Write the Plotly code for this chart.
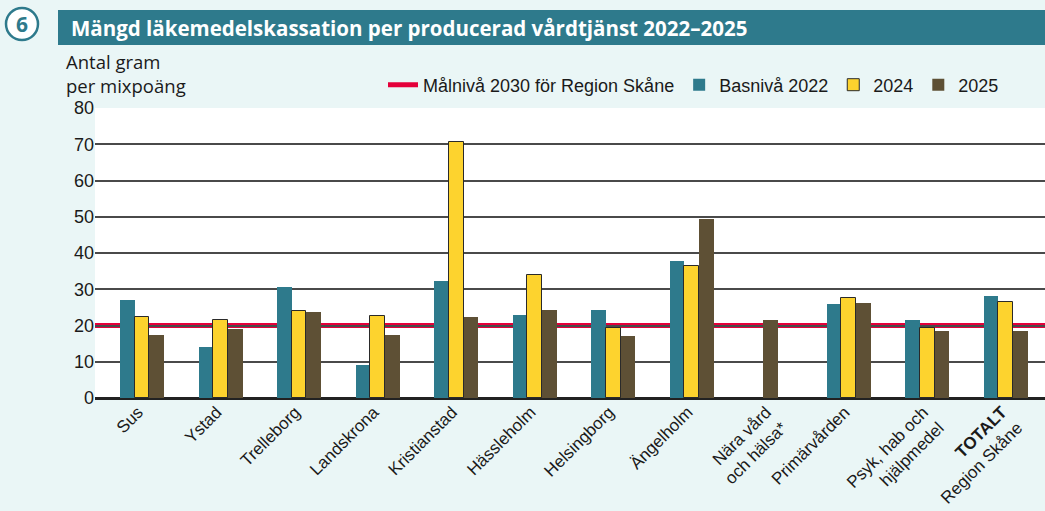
import plotly.graph_objects as go

categories = ["Sus", "Ystad", "Trelleborg", "Landskrona", "Kristianstad", "Hässleholm",
              "Helsingborg", "Ängelholm", "Nära vård<br>och hälsa*", "Primärvården",
              "Psyk, hab och<br>hjälpmedel", "<b>TOTALT</b><br>Region Skåne"]
bas2022 = [27.1, 14.0, 30.7, 9.1, 32.3, 22.8, 24.2, 37.8, None, 25.9, 21.5, 28.2]
v2024 = [22.4, 21.5, 24.1, 22.5, 70.7, 33.9, 19.4, 36.4, None, 27.5, 19.2, 26.5]
v2025 = [17.3, 19.0, 23.6, 17.3, 22.3, 24.2, 17.0, 49.4, 21.5, 26.2, 18.4, 18.4]
target = 20
yticks = [0, 10, 20, 30, 40, 50, 60, 70, 80]

TEAL = "#2E7A8C"
YELLOW = "#FDD32E"
BROWN = "#5E5035"
RED = "#E4003A"
BG = "#EAF6F6"

W, H = 1045, 511
L, R, T, B = 95, 0, 108, 113
pw, ph = W - L - R, H - T - B

def px(x):
    return (x - L) / pw

def py(y):
    return (H - B - y) / ph

xs = list(range(len(categories)))
bw = 0.187

fig = go.Figure()
# legend entry for target line
fig.add_trace(go.Scatter(x=[None], y=[None], mode="lines", name="Målnivå 2030 för Region Skåne",
                         line=dict(color=RED, width=5)))
fig.add_trace(go.Bar(x=xs, y=bas2022, name="Basnivå 2022", marker=dict(color=TEAL, line=dict(width=0)),
                     width=bw, offset=-1.5 * bw))
fig.add_trace(go.Bar(x=xs, y=v2024, name="2024", marker=dict(color=YELLOW, line=dict(color="#2a2a2a", width=1)),
                     width=bw, offset=-0.5 * bw))
off25 = [(-0.5 * bw if (bas2022[i] is None and v2024[i] is None) else 0.5 * bw) for i in xs]
fig.add_trace(go.Bar(x=xs, y=v2025, name="2025", marker=dict(color=BROWN, line=dict(width=0)),
                     width=bw, offset=off25))

shapes = [
    dict(type="line", xref="paper", yref="y", x0=0, x1=1, y0=target, y1=target,
         line=dict(color=RED, width=5), layer="between"),
    dict(type="rect", xref="paper", yref="paper", x0=px(58), x1=px(1045), y0=py(45), y1=py(10),
         fillcolor=TEAL, line=dict(width=0), layer="above"),
    dict(type="circle", xref="paper", yref="paper", x0=px(6), x1=px(38), y0=py(40), y1=py(8),
         fillcolor="white", line=dict(color=TEAL, width=2.5), layer="above"),
]

annotations = [
    dict(text="<b>Mängd läkemedelskassation per producerad vårdtjänst 2022–2025</b>",
         xref="paper", yref="paper", x=px(69), y=py(28), xanchor="left", yanchor="middle",
         showarrow=False, font=dict(family="Open Sans", size=20.5, color="white")),
    dict(text="<b>6</b>", xref="paper", yref="paper", x=px(22), y=py(24), xanchor="center",
         yanchor="middle", showarrow=False, font=dict(family="Open Sans", size=21, color=TEAL)),
    dict(text="Antal gram<br>per mixpoäng", xref="paper", yref="paper", x=px(64), y=py(73),
         xanchor="left", yanchor="middle", align="left", showarrow=False,
         font=dict(family="Open Sans", size=18.5, color="#1a1a1a")),
]

fig.update_layout(
    width=W, height=H,
    margin=dict(l=L, r=R, t=T, b=B),
    paper_bgcolor=BG, plot_bgcolor="white",
    barmode="overlay",
    showlegend=True,
    legend=dict(orientation="h", x=px(383), y=py(85), xanchor="left", yanchor="middle",
                bgcolor="rgba(0,0,0,0)", font=dict(family="Liberation Sans", size=18, color="#1a1a1a"),
                traceorder="normal", itemwidth=30),
    shapes=shapes, annotations=annotations,
    xaxis=dict(range=[-0.6, 11.5], tickvals=xs, ticktext=categories, tickangle=-45,
               showgrid=False, zeroline=False, showline=False, ticks="", automargin=False,
               ticklabelshift=-4,
               tickfont=dict(family="Liberation Sans", size=17, color="#1a1a1a")),
    yaxis=dict(range=[0, 80], tickvals=yticks, showgrid=True, gridcolor="#4a4a4a", gridwidth=1.5,
               zeroline=True, zerolinecolor="#222", zerolinewidth=2.5, showline=False,
               ticks="", automargin=False,
               tickfont=dict(family="Liberation Sans", size=18, color="#1a1a1a")),
    bargap=0,
)

fig.write_html("out.html", config={"displayModeBar": False},
               post_script="document.body.style.margin='0px';document.body.style.overflow='hidden';")
